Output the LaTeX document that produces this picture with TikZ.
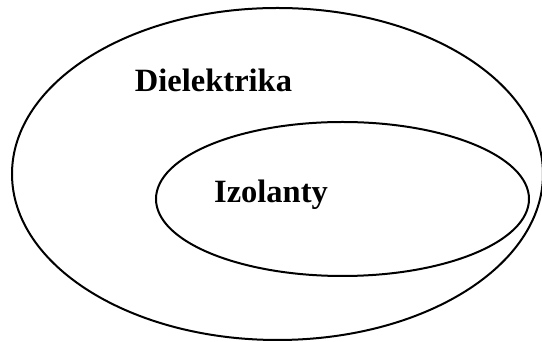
\documentclass[tikz,border=0pt]{standalone}
\usepackage{fontspec}
\setmainfont{Liberation Serif}
\begin{document}
\begin{tikzpicture}[x=1pt,y=1pt,
  ring/.style={draw=black,line width=2pt},
  lbl/.style={font=\fontsize{32.5}{32.5}\selectfont\bfseries,anchor=base,inner sep=0pt}]
\useasboundingbox (0,0) rectangle (542,342);
\draw[ring] (277.5,168) ellipse [x radius=265.5, y radius=166];
\draw[ring] (342.5,143) ellipse [x radius=186.5, y radius=77];
\node[lbl] (diel) at (213.5,250) {Dielektrika};
\node[lbl] (izol) at (271,139) {Izolanty};
\end{tikzpicture}
\end{document}
